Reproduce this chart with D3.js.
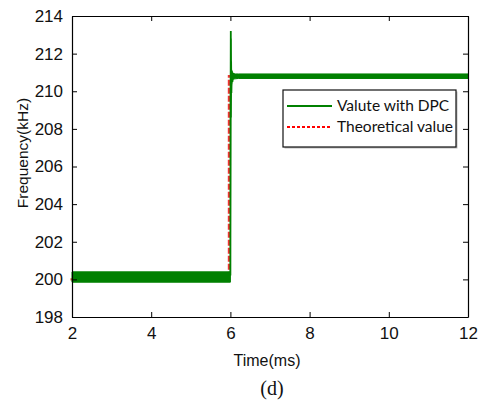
<!DOCTYPE html>
<html>
<head>
<meta charset="utf-8">
<script src="https://cdn.jsdelivr.net/npm/d3@7"></script>
<style>
  body { margin: 0; background: #fff; }
  svg { display: block; }
</style>
</head>
<body>
<svg id="chart" width="480" height="405"></svg>
<script>
// tick values
var xTicks = [2, 4, 6, 8, 10, 12];
var yTicks = [198, 200, 202, 204, 206, 208, 210, 212, 214];

// measured DPC frequency, as an envelope of the ripple band (min / max)
var bandTime = [2, 6.0, 6.0, 6.01, 6.02, 6.03, 6.05, 6.08, 6.12, 6.2, 12];
var bandLow  = [199.85, 199.85, 199.85, 209.2, 210.0, 210.35, 210.6, 210.65, 210.66, 210.68, 210.68];
var bandHigh = [200.4, 200.4, 210.0, 212.8, 211.6, 211.1, 210.98, 210.94, 210.92, 210.92, 210.92];

// transient right at the step
var spikeTime = [6.0, 6.005, 6.01, 6.013, 6.018, 6.025, 6.035, 6.05, 6.08, 6.12];
var spikeVal  = [200.2, 209.5, 213.2, 208.6, 211.6, 209.9, 211.1, 210.5, 210.9, 210.8];

// theoretical value (ideal step)
var theoTime = [2, 6.0, 6.0, 12];
var theoVal  = [200.0, 200.0, 210.8, 210.8];

var svg = d3.select("#chart");
var m = {left: 72, top: 16, right: 12, bottom: 88};
var W = 480 - m.left - m.right, H = 405 - m.top - m.bottom;

var x = d3.scaleLinear().domain([2, 12]).range([m.left, m.left + W]);
var y = d3.scaleLinear().domain([198, 214]).range([m.top + H, m.top]);

var green = "#008000", red = "#ff0000";
var line = d3.line().x(function (d) { return x(d[0]); }).y(function (d) { return y(d[1]); });

// theoretical (under the measured trace, shows only on the step)
svg.append("path")
  .datum(theoTime.map(function (t, i) { return [t, theoVal[i]]; }))
  .attr("fill", "none")
  .attr("stroke", "#ee3333")
  .attr("stroke-width", 2.2)
  .attr("stroke-dasharray", "6,2")
  .attr("transform", "translate(-1.5,0)")
  .attr("d", line);

// band
var band = bandTime.map(function (t, i) { return {t: t, lo: bandLow[i], hi: bandHigh[i]}; });
svg.append("path")
  .datum(band)
  .attr("fill", green)
  .attr("stroke", green)
  .attr("stroke-width", 1)
  .attr("d", d3.area().x(function (d) { return x(d.t); })
    .y0(function (d) { return y(d.lo); })
    .y1(function (d) { return y(d.hi); }));

svg.append("path")
  .datum(spikeTime.map(function (t, i) { return [t, spikeVal[i]]; }))
  .attr("fill", "none")
  .attr("stroke", green)
  .attr("stroke-width", 1.8)
  .attr("d", line);

// axes (ticks pointing inward, box all round)
var fontAx = "'Liberation Sans', Arial, sans-serif";
function styleAxis(g) {
  g.selectAll(".domain").attr("stroke", "#000").attr("stroke-width", 1.2);
  g.selectAll(".tick line").attr("stroke", "#000");
  g.selectAll("text").attr("font-family", fontAx).attr("font-size", "17px").attr("fill", "#111");
}

svg.append("g").attr("transform", "translate(0," + (m.top + H) + ")")
  .call(d3.axisBottom(x).tickValues(xTicks).tickSizeInner(-5).tickSizeOuter(0).tickPadding(10))
  .call(styleAxis);
svg.append("g").attr("transform", "translate(0," + m.top + ")")
  .call(d3.axisTop(x).tickValues(xTicks).tickSizeInner(-5).tickSizeOuter(0).tickFormat(""))
  .call(styleAxis);
svg.append("g").attr("transform", "translate(" + m.left + ",0)")
  .call(d3.axisLeft(y).tickValues(yTicks).tickSizeInner(-5).tickSizeOuter(0).tickPadding(9))
  .call(styleAxis);
svg.append("g").attr("transform", "translate(" + (m.left + W) + ",0)")
  .call(d3.axisRight(y).tickValues(yTicks).tickSizeInner(-5).tickSizeOuter(0).tickFormat(""))
  .call(styleAxis);

// labels
svg.append("text")
  .attr("transform", "translate(28,153) rotate(-90)")
  .attr("text-anchor", "middle")
  .attr("font-family", fontAx).attr("font-size", "15.5px").attr("fill", "#111")
  .text("Frequency(kHz)");
svg.append("text")
  .attr("x", 267).attr("y", 366)
  .attr("text-anchor", "middle")
  .attr("font-family", fontAx).attr("font-size", "16px").attr("fill", "#111")
  .text("Time(ms)");
svg.append("text")
  .attr("x", 272).attr("y", 395)
  .attr("text-anchor", "middle")
  .attr("font-family", "'Liberation Serif', 'Times New Roman', serif").attr("font-size", "20px").attr("fill", "#111")
  .text("(d)");

// legend
var lg = svg.append("g").attr("transform", "translate(283,90)");
lg.append("rect").attr("x", 1.5).attr("y", 1.5).attr("width", 173).attr("height", 57).attr("fill", "#bbb");
lg.append("rect").attr("width", 173).attr("height", 57).attr("fill", "#fff").attr("stroke", "#111").attr("stroke-width", 1.2);
var items = [
  {label: "Valute with DPC", color: green, dash: null},
  {label: "Theoretical value", color: red, dash: "3,2"}
];
items.forEach(function (it, i) {
  var yy = 16 + i * 21;
  lg.append("line").attr("x1", 4).attr("x2", 49).attr("y1", yy).attr("y2", yy)
    .attr("stroke", it.color).attr("stroke-width", 2)
    .attr("stroke-dasharray", it.dash);
  lg.append("text").attr("x", 54).attr("y", yy + 4.5)
    .attr("font-family", "Lato, 'Open Sans', sans-serif").attr("font-size", "15.5px").attr("fill", "#111")
    .text(it.label);
});
</script>
</body>
</html>
